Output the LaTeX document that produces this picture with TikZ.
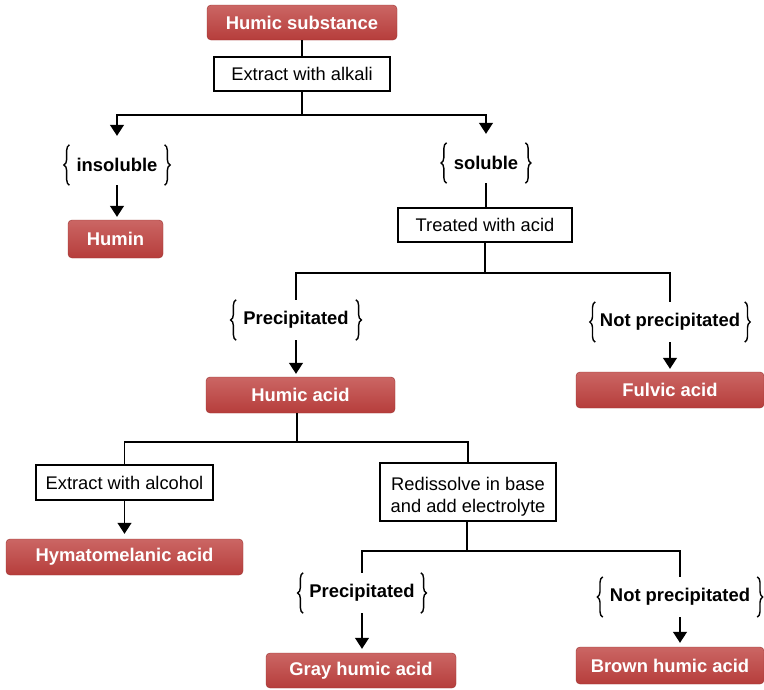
\documentclass[tikz,border=0pt]{standalone}
\usepackage{fontspec}
\setmainfont{Liberation Sans}
\usetikzlibrary{arrows.meta,decorations.pathreplacing,calc}
\definecolor{redtop}{HTML}{CB6664}
\definecolor{redbot}{HTML}{B63D3B}
\begin{document}
\begin{tikzpicture}[x=1pt,y=-1pt,
  result/.style={rounded corners=4pt, top color=redtop, bottom color=redbot,
    draw=redbot!85!black, line width=0.4pt, text=white,
    font=\fontsize{18.4}{22}\selectfont\bfseries, inner sep=0pt},
  proc/.style={draw, line width=1.3pt, fill=white,
    font=\fontsize{18.3}{22}\selectfont, inner sep=0pt, align=center},
  cond/.style={font=\fontsize{18.4}{22}\selectfont\bfseries, minimum height=40pt,
    inner xsep=7pt, inner ysep=0pt},
  conn/.style={line width=1.2pt},
  arr/.style={conn, -{Triangle[width=14pt,length=11pt]}},
  brc/.style={decorate, decoration={brace, amplitude=5.5pt}, line width=1.4pt}]
\useasboundingbox (0,0) rectangle (764,689);

% nodes
\node[result, minimum width=190pt, minimum height=35pt] (hs) at (302,22.5) {Humic substance};
\node[proc, minimum width=176pt, minimum height=34pt] (alk) at (302,74) {Extract with alkali};
\node[cond] (insol) at (117,165) {insoluble};
\node[result, minimum width=95pt, minimum height=38pt] (humin) at (115.5,239) {Humin};
\node[cond] (sol) at (486,163) {soluble};
\node[proc, minimum width=174pt, minimum height=34pt] (acid) at (485,225) {Treated with acid};
\node[cond] (prec1) at (296,320) {Precipitated};
\node[cond, inner xsep=4.5pt] (np1) at (670,322) {Not precipitated};
\node[result, minimum width=189pt, minimum height=36pt] (ha) at (300.5,395) {Humic acid};
\node[result, minimum width=188pt, minimum height=36pt] (fa) at (670,390) {Fulvic acid};
\node[proc, minimum width=177pt, minimum height=35pt] (alc) at (124.5,482.5) {Extract with alcohol};
\node[proc, minimum width=176pt, minimum height=58pt] (redis) at (468,492) {\rule{0pt}{23pt}Redissolve in base\\and add electrolyte};
\node[result, minimum width=237pt, minimum height=36pt] (hym) at (124.5,557) {Hymatomelanic acid};
\node[cond, inner xsep=6pt] (prec2) at (362,593) {Precipitated};
\node[cond] (np2) at (680,597) {Not precipitated};
\node[result, minimum width=190pt, minimum height=35pt] (gha) at (361,670.5) {Gray humic acid};
\node[result, minimum width=188pt, minimum height=37pt] (bha) at (670,665.5) {Brown humic acid};

% braces
\foreach \c in {insol,sol,prec1,np1,prec2,np2}{
  \draw[brc] (\c.south west) -- (\c.north west);
  \draw[brc] (\c.north east) -- (\c.south east);
}

% junctions
\coordinate (j1) at (302,115);
\coordinate (j2) at (485,273);
\coordinate (j3) at (297,442);
\coordinate (j4) at (467,551);

% connectors
\draw[conn] (hs) -- (alk);
\draw[conn] (alk) -- (j1);
\draw[arr, shorten >=9pt] (j1) -| (insol.north);
\draw[arr, shorten >=9pt] (j1) -| (sol.north);
\draw[arr, shorten >=3pt] (insol.south) -- (insol.south |- humin.north);

\draw[conn] (sol.south) -- (sol.south |- acid.north);
\draw[conn] (acid) -- (j2);
\draw[conn] (j2) -| (prec1.north);
\draw[conn] (j2) -| (np1.north);
\draw[arr, shorten >=3pt] (prec1.south) -- (prec1.south |- ha.north);
\draw[arr, shorten >=3pt] (np1.south) -- (np1.south |- fa.north);

\draw[conn] (ha.south -| j3) -- (j3);
\draw[conn] (j3) -| (alc.north);
\draw[conn] (j3) -| (redis.north);
\draw[arr, shorten >=5pt] (alc) -- (hym);

\draw[conn] (redis.south -| j4) -- (j4);
\draw[conn] (j4) -| (prec2.north);
\draw[conn] (j4) -| (np2.north);
\draw[arr, shorten >=4pt] (prec2.south) -- (prec2.south |- gha.north);
\draw[arr, shorten >=4pt] (np2.south) -- (np2.south |- bha.north);
\end{tikzpicture}
\end{document}
